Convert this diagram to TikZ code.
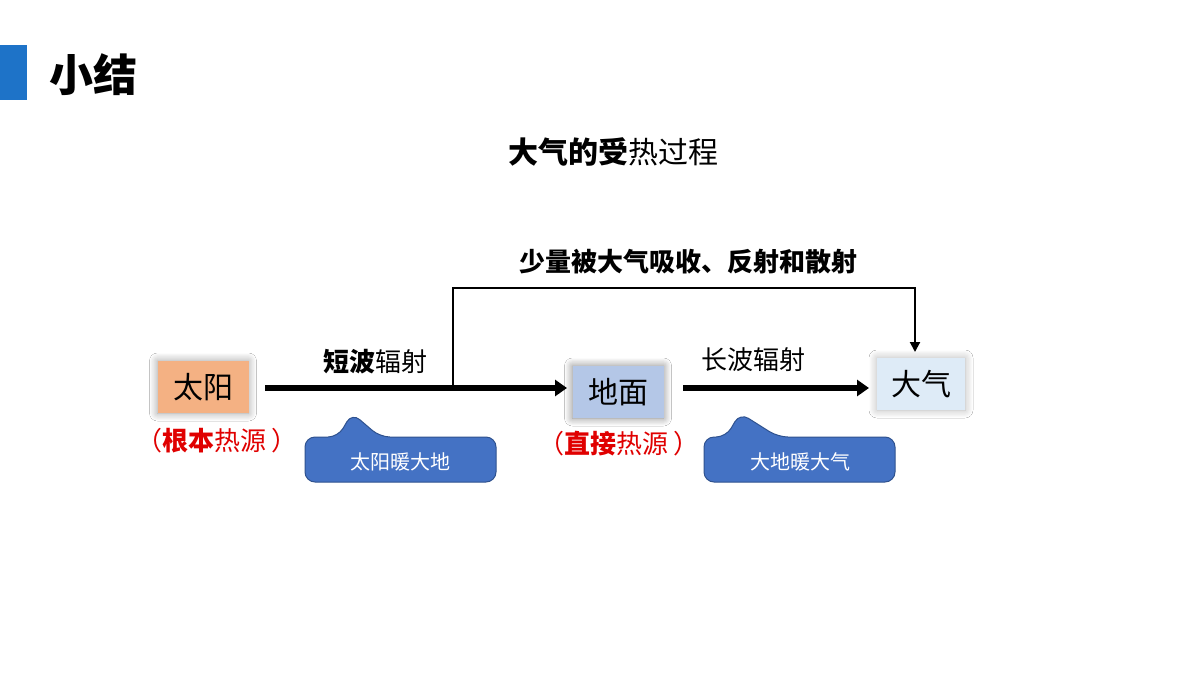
\documentclass[tikz,border=0pt]{standalone}
\usepackage{fontspec}
\setmainfont{Noto Sans CJK SC}
\newfontfamily\cjk{Noto Sans CJK SC}
\usetikzlibrary{arrows.meta,shadows.blur}
\definecolor{cblue}{HTML}{4472C4}
\definecolor{cborder}{HTML}{2F528F}
\definecolor{cred}{HTML}{E00000}
\tikzset{
  box/.style={draw=none,minimum width=45.5pt,minimum height=26pt,font=\fontsize{15}{15}\selectfont,text=black},
  callout/.style={fill=cblue,draw=cborder,line width=0.5pt},
  lbl/.style={font=\fontsize{13}{13}\selectfont},
  big/.style={-{Triangle[length=6pt,width=8pt]},line width=3pt},
}
\begin{document}
\begin{tikzpicture}[x=0.5pt,y=-0.5pt]
\useasboundingbox (0,0) rectangle (1200,675);
\fill[white] (0,0) rectangle (1200,675);
\fill[fill={rgb,255:red,30;green,115;blue,200}] (0,45) rectangle (27,100);
\node[anchor=west,font=\fontsize{22}{22}\selectfont\bfseries] (title) at (42,75) {小结};
\node[font=\fontsize{15}{15}\selectfont] (head) at (613,152) {\textbf{大气的受}热过程};
% boxes
\node[box,fill={rgb,255:red,244;green,177;blue,131},blur shadow={shadow xshift=0pt,shadow yshift=0pt,shadow blur radius=4pt,shadow opacity=40,shadow blur steps=8}] (sun) at (203,387) {太阳};
\node[box,fill={rgb,255:red,180;green,199;blue,231},blur shadow={shadow xshift=0pt,shadow yshift=0pt,shadow blur radius=4pt,shadow opacity=50,shadow blur steps=8}] (ground) at (618,392) {地面};
\node[box,minimum width=44pt,fill={rgb,255:red,222;green,235;blue,247},blur shadow={shadow xshift=0pt,shadow yshift=0pt,shadow blur radius=4pt,shadow opacity=30,shadow blur steps=8}] (air) at (921,384) {大气};
% arrows
\coordinate (a1s) at (265,388);
\coordinate (a1e) at (567,388);
\coordinate (a2s) at (683,388);
\coordinate (a2e) at (869,388);
\draw[big] (a1s) -- (a1e);
\draw[big] (a2s) -- (a2e);
\coordinate (b1) at (453,386);
\coordinate (b2) at (915,352);
\draw[line width=1pt,-{Triangle[length=5pt,width=5pt]}] (b1) -- (453,288) -- (915,288) -- (b2);
\node[lbl,font=\fontsize{13}{13}\selectfont\bfseries] (absorb) at (688,262) {少量被大气吸收、反射和散射};
\node[lbl] (sw) at (375,362) {\textbf{短波}辐射};
\node[lbl] (lw) at (753,360) {长波辐射};
\node[lbl,text=cred] (src1) at (217,441) {（\textbf{根本}热源 ）};
\node[lbl,text=cred] (src2) at (619,444) {（\textbf{直接}热源 ）};
% callouts
\draw[callout,rounded corners=5pt] (305,437) -- (338,437) -- (352,413) -- (380,437) -- (496,437) -- (496,482) -- (305,482) -- cycle;
\node[text=white,font=\fontsize{10}{10}\selectfont] (c1) at (400,462) {太阳暖大地};
\draw[callout,rounded corners=5pt] (704,437) -- (726,437) -- (740,413) -- (778,437) -- (895,437) -- (895,482) -- (704,482) -- cycle;
\node[text=white,font=\fontsize{10}{10}\selectfont] (c2) at (800,462) {大地暖大气};
\end{tikzpicture}
\end{document}
